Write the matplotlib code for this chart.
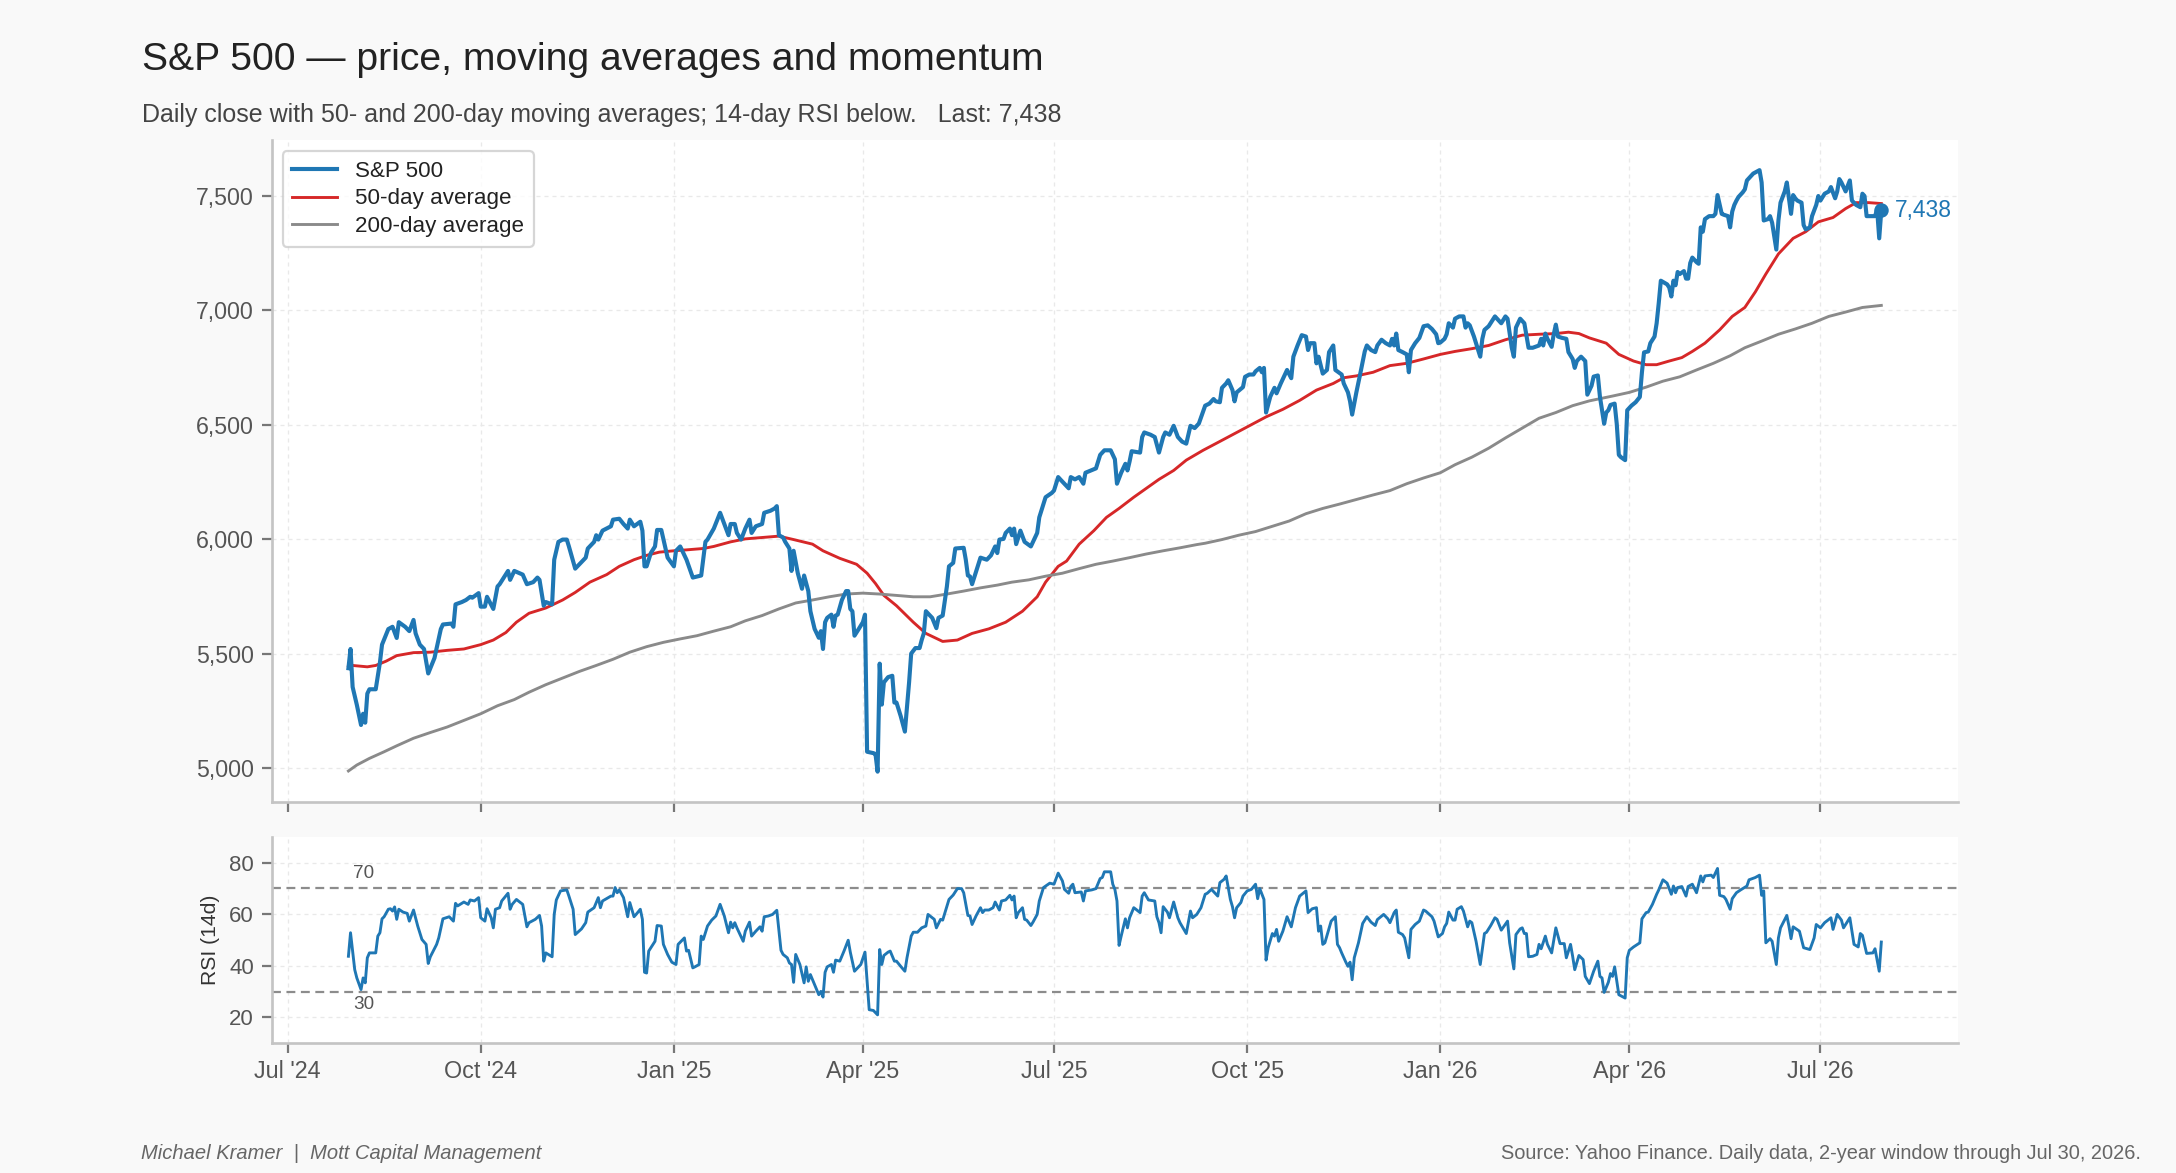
import matplotlib
matplotlib.use("Agg")
import matplotlib.pyplot as plt
import matplotlib.dates as mdates
from matplotlib.ticker import FuncFormatter, FixedLocator
import pandas as pd
import numpy as np

plt.rcParams['font.family'] = ['Liberation Sans', 'DejaVu Sans']

# ---------------- data ----------------
DAY0 = "2024-07-01"   # day offsets below are calendar days after this date

price_days = [
    29, 30, 31, 33, 35, 36, 37, 38, 39, 42, 44, 45, 48, 50, 52, 53, 56, 58, 60, 61,
    63, 65, 67, 70, 73, 74, 78, 79, 80, 83, 85, 87, 88, 91, 92, 94, 95, 98, 100, 101,
    103, 105, 106, 108, 112, 114, 117, 119, 120, 122, 123, 126, 127, 129, 131, 133, 134, 137, 139, 142,
    143, 146, 147, 148, 150, 154, 155, 158, 160, 162, 163, 165, 168, 169, 170, 171, 173, 175, 176, 178,
    180, 181, 184, 185, 187, 190, 193, 197, 199, 200, 203, 206, 208, 210, 211, 213, 214, 216, 218, 220,
    221, 223, 226, 227, 230, 232, 233, 234, 236, 237, 239, 240, 241, 243, 245, 246, 248, 249, 251, 253,
    254, 255, 256, 257, 259, 260, 261, 262, 264, 266, 267, 268, 269, 270, 272, 274, 275, 276, 279, 280,
    281, 282, 283, 284, 286, 288, 289, 290, 292, 294, 296, 297, 299, 301, 302, 303, 304, 307, 309, 310,
    312, 314, 315, 317, 318, 322, 323, 324, 325, 326, 328, 330, 333, 335, 337, 338, 339, 341, 342, 344,
    345, 346, 347, 349, 351, 354, 357, 358, 360, 361, 364, 365, 367, 368, 371, 372, 373, 375, 377, 379,
    380, 385, 387, 389, 392, 394, 395, 397, 399, 400, 401, 402, 406, 407, 408, 411, 413, 415, 417, 418,
    420, 422, 424, 426, 428, 430, 432, 434, 437, 439, 441, 442, 444, 445, 447, 448, 450, 451, 452, 455,
    456, 458, 460, 461, 463, 464, 465, 466, 468, 469, 470, 471, 473, 475, 476, 478, 479, 481, 483, 485,
    486, 487, 489, 490, 491, 493, 495, 496, 498, 499, 502, 503, 505, 506, 507, 509, 511, 513, 514, 516,
    518, 519, 521, 523, 525, 526, 527, 528, 529, 531, 533, 534, 535, 537, 539, 541, 543, 545, 547, 548,
    549, 551, 552, 553, 555, 556, 558, 560, 561, 562, 563, 565, 568, 569, 570, 572, 575, 576, 578, 580,
    581, 583, 584, 585, 586, 587, 589, 591, 593, 596, 597, 598, 599, 600, 602, 603, 604, 605, 607, 609,
    610, 612, 613, 614, 616, 618, 619, 621, 622, 624, 625, 627, 628, 629, 630, 632, 633, 634, 635, 637,
    638, 640, 642, 644, 645, 646, 648, 649, 651, 652, 653, 654, 657, 658, 659, 660, 661, 662, 663, 665,
    666, 667, 668, 669, 671, 672, 673, 674, 675, 677, 679, 680, 681, 683, 684, 686, 687, 688, 689, 690,
    691, 693, 694, 695, 697, 698, 701, 702, 703, 705, 706, 707, 709, 710, 711, 713, 714, 715, 716, 717,
    718, 719, 721, 722, 723, 725, 726, 728, 729, 730, 732, 734, 735, 737, 738, 739, 740, 742, 744, 745,
    747, 749, 750, 751, 752, 754, 756, 757, 758, 759,
]
price_vals = [
    5437, 5521, 5355, 5277, 5189, 5238, 5199, 5326, 5345, 5345, 5462, 5540, 5608, 5618, 5569, 5638, 5618, 5599, 5648, 5589,
    5540, 5521, 5414, 5482, 5608, 5628, 5632, 5618, 5716, 5726, 5735, 5749, 5745, 5765, 5706, 5706, 5749, 5696, 5794, 5804,
    5833, 5862, 5823, 5862, 5846, 5804, 5813, 5833, 5823, 5710, 5726, 5716, 5911, 5989, 5999, 5999, 5969, 5872, 5891, 5920,
    5960, 5989, 6018, 5999, 6038, 6057, 6086, 6090, 6067, 6047, 6086, 6057, 6077, 6038, 5882, 5882, 5940, 5969, 6041, 6041,
    5960, 5920, 5882, 5950, 5969, 5911, 5833, 5842, 5989, 5999, 6047, 6116, 6067, 6018, 6067, 6067, 6028, 5999, 6047, 6086,
    6028, 6057, 6067, 6116, 6125, 6135, 6145, 6018, 6008, 5989, 5960, 5862, 5950, 5852, 5784, 5842, 5774, 5686, 5609, 5570,
    5599, 5521, 5638, 5657, 5671, 5618, 5667, 5671, 5735, 5774, 5774, 5696, 5686, 5579, 5608, 5638, 5671, 5072, 5066, 5062,
    4985, 5457, 5278, 5375, 5398, 5404, 5287, 5287, 5228, 5160, 5375, 5501, 5525, 5525, 5560, 5589, 5686, 5657, 5612, 5657,
    5667, 5794, 5882, 5897, 5960, 5963, 5911, 5842, 5838, 5804, 5862, 5920, 5911, 5930, 5969, 5940, 5999, 6002, 6028, 6047,
    6018, 6047, 5979, 6038, 5989, 5969, 6028, 6096, 6154, 6184, 6203, 6213, 6272, 6262, 6233, 6223, 6272, 6262, 6272, 6243,
    6291, 6310, 6369, 6389, 6389, 6350, 6243, 6291, 6330, 6301, 6340, 6385, 6379, 6447, 6467, 6457, 6447, 6379, 6447, 6467,
    6457, 6496, 6447, 6427, 6418, 6496, 6486, 6506, 6584, 6593, 6613, 6603, 6599, 6662, 6681, 6695, 6652, 6603, 6642, 6665,
    6710, 6720, 6720, 6734, 6749, 6730, 6749, 6554, 6623, 6642, 6662, 6638, 6681, 6720, 6740, 6704, 6798, 6847, 6892, 6886,
    6827, 6857, 6857, 6769, 6798, 6724, 6740, 6818, 6847, 6740, 6720, 6681, 6642, 6603, 6545, 6642, 6730, 6821, 6847, 6827,
    6818, 6847, 6872, 6857, 6847, 6876, 6847, 6899, 6827, 6818, 6808, 6730, 6827, 6857, 6880, 6931, 6935, 6919, 6896, 6857,
    6860, 6876, 6896, 6944, 6925, 6964, 6974, 6974, 6925, 6944, 6935, 6886, 6798, 6876, 6915, 6931, 6974, 6964, 6944, 6974,
    6964, 6837, 6798, 6925, 6944, 6964, 6944, 6837, 6837, 6847, 6876, 6847, 6899, 6876, 6841, 6896, 6938, 6886, 6880, 6876,
    6818, 6788, 6749, 6779, 6798, 6779, 6632, 6671, 6711, 6716, 6623, 6505, 6554, 6564, 6587, 6593, 6505, 6369, 6359, 6346,
    6564, 6584, 6599, 6622, 6730, 6817, 6821, 6857, 6886, 6944, 7032, 7130, 7114, 7100, 7061, 7130, 7110, 7168, 7159, 7172,
    7139, 7139, 7207, 7231, 7211, 7204, 7363, 7344, 7399, 7412, 7412, 7422, 7504, 7422, 7418, 7412, 7363, 7432, 7461, 7480,
    7496, 7516, 7529, 7568, 7588, 7598, 7613, 7559, 7393, 7399, 7412, 7383, 7266, 7393, 7471, 7520, 7559, 7490, 7422, 7504,
    7490, 7480, 7471, 7373, 7354, 7363, 7412, 7461, 7500, 7480, 7510, 7520, 7539, 7490, 7520, 7574, 7559, 7520, 7568, 7480,
    7461, 7451, 7510, 7500, 7412, 7412, 7412, 7441, 7315, 7438,
]

ma50_days = [
    29, 31, 38, 42, 47, 52, 60, 68, 76, 84, 92, 98, 104, 109, 115, 123, 131, 137, 144, 152,
    158, 165, 171, 177, 184, 190, 198, 203, 211, 218, 226, 234, 241, 250, 255, 263, 271, 276, 280, 284,
    290, 298, 304, 312, 319, 326, 334, 342, 350, 357, 361, 367, 371, 377, 384, 390, 396, 403, 409, 415,
    422, 428, 436, 442, 450, 458, 466, 474, 482, 490, 498, 503, 509, 517, 525, 533, 541, 549, 556, 564,
    572, 580, 588, 596, 604, 610, 615, 620, 628, 634, 641, 647, 652, 658, 664, 669, 675, 682, 688, 694,
    699, 704, 710, 717, 723, 729, 736, 742, 747, 753, 759,
]
ma50_vals = [
    5443, 5449, 5443, 5449, 5468, 5492, 5505, 5507, 5515, 5521, 5540, 5560, 5593, 5638, 5677, 5700, 5735, 5768, 5813, 5846,
    5882, 5911, 5930, 5944, 5950, 5954, 5960, 5969, 5989, 6002, 6008, 6014, 5999, 5979, 5950, 5917, 5891, 5852, 5807, 5755,
    5710, 5638, 5589, 5554, 5560, 5589, 5609, 5638, 5686, 5749, 5813, 5882, 5905, 5979, 6038, 6096, 6135, 6184, 6223, 6262,
    6301, 6346, 6389, 6418, 6457, 6496, 6535, 6568, 6607, 6652, 6681, 6706, 6714, 6730, 6759, 6769, 6788, 6808, 6821, 6833,
    6847, 6872, 6892, 6896, 6899, 6905, 6899, 6880, 6857, 6808, 6779, 6763, 6763, 6779, 6794, 6821, 6857, 6915, 6974, 7013,
    7081, 7159, 7247, 7315, 7344, 7387, 7406, 7445, 7471, 7471, 7467,
]

ma200_days = [
    29, 33, 39, 46, 52, 60, 68, 76, 84, 92, 100, 108, 115, 123, 131, 139, 147, 155, 163, 171,
    179, 187, 195, 203, 211, 218, 226, 234, 242, 250, 258, 266, 274, 282, 290, 298, 306, 314, 322, 330,
    338, 345, 353, 361, 369, 377, 385, 393, 401, 409, 417, 425, 433, 437, 445, 453, 461, 469, 477, 485,
    493, 501, 509, 517, 525, 533, 541, 549, 556, 564, 572, 580, 588, 596, 604, 612, 620, 631, 639, 647,
    655, 663, 671, 679, 687, 694, 702, 710, 718, 726, 734, 742, 750, 759,
]
ma200_vals = [
    4988, 5014, 5043, 5072, 5098, 5131, 5156, 5180, 5209, 5238, 5273, 5300, 5332, 5365, 5394, 5423, 5449, 5476, 5507, 5531,
    5550, 5565, 5579, 5599, 5618, 5644, 5667, 5696, 5722, 5735, 5749, 5761, 5765, 5761, 5755, 5749, 5749, 5761, 5774, 5788,
    5800, 5813, 5823, 5839, 5852, 5872, 5891, 5905, 5920, 5936, 5950, 5963, 5977, 5983, 5999, 6018, 6034, 6057, 6080, 6112,
    6135, 6154, 6174, 6194, 6213, 6243, 6268, 6291, 6326, 6359, 6398, 6443, 6486, 6529, 6554, 6584, 6605, 6626, 6642, 6665,
    6691, 6710, 6740, 6769, 6802, 6837, 6866, 6896, 6919, 6944, 6974, 6993, 7013, 7022,
]

rsi_days = [
    29, 30, 32, 33, 35, 36, 37, 38, 39, 42, 43, 44, 45, 46, 48, 49, 50, 51, 52, 53,
    55, 57, 58, 60, 62, 64, 66, 67, 68, 71, 72, 74, 77, 79, 80, 81, 84, 86, 87, 89,
    91, 92, 94, 95, 97, 98, 99, 101, 102, 105, 106, 107, 109, 112, 114, 115, 118, 120, 121, 122,
    123, 126, 127, 128, 130, 133, 134, 136, 137, 140, 142, 143, 146, 148, 149, 150, 154, 155, 156, 157,
    158, 160, 162, 163, 165, 166, 168, 169, 170, 171, 172, 175, 176, 178, 179, 181, 183, 185, 186, 189,
    190, 191, 193, 194, 196, 197, 198, 200, 202, 204, 206, 208, 210, 211, 212, 213, 214, 217, 218, 220,
    221, 223, 225, 226, 227, 229, 231, 233, 235, 236, 238, 239, 240, 241, 242, 244, 246, 247, 248, 249,
    251, 253, 254, 255, 256, 257, 259, 260, 261, 263, 265, 267, 268, 270, 273, 275, 277, 279, 281, 282,
    283, 284, 286, 287, 289, 290, 292, 294, 295, 297, 298, 300, 302, 304, 305, 308, 309, 311, 312, 315,
    317, 319, 321, 322, 324, 325, 326, 328, 330, 331, 332, 334, 336, 337, 339, 340, 342, 344, 345, 346,
    347, 348, 350, 351, 352, 354, 355, 357, 358, 360, 363, 365, 367, 369, 370, 372, 373, 374, 375, 378,
    379, 380, 383, 385, 387, 388, 389, 392, 393, 394, 395, 396, 397, 399, 400, 401, 403, 404, 406, 407,
    408, 410, 413, 414, 415, 416, 417, 419, 420, 422, 424, 425, 428, 430, 431, 433, 435, 437, 438, 440,
    443, 444, 446, 447, 449, 450, 451, 452, 454, 455, 457, 459, 461, 462, 463, 465, 466, 467, 469, 470,
    471, 472, 474, 476, 478, 480, 482, 485, 486, 488, 490, 491, 492, 493, 494, 497, 499, 500, 501, 502,
    504, 505, 506, 507, 508, 510, 512, 514, 516, 518, 519, 522, 524, 525, 527, 528, 529, 531, 532, 534,
    535, 537, 539, 541, 542, 545, 546, 548, 550, 551, 552, 553, 555, 556, 557, 559, 560, 562, 563, 564,
    566, 568, 570, 571, 573, 575, 576, 578, 581, 582, 584, 585, 587, 588, 589, 590, 591, 593, 595, 596,
    597, 599, 600, 602, 604, 606, 608, 609, 611, 612, 613, 615, 617, 618, 620, 622, 624, 625, 626, 627,
    629, 630, 631, 632, 634, 637, 638, 639, 641, 644, 645, 647, 648, 650, 652, 653, 655, 657, 659, 660,
    661, 662, 664, 666, 667, 669, 671, 673, 674, 675, 678, 679, 681, 682, 684, 685, 687, 688, 690, 692,
    695, 696, 699, 701, 702, 703, 704, 706, 707, 709, 710, 711, 714, 715, 716, 717, 720, 722, 725, 727,
    728, 730, 732, 735, 736, 738, 740, 741, 744, 746, 748, 749, 750, 752, 755, 756, 758, 759,
]
rsi_vals = [
    43.7, 52.8, 38.5, 35.3, 30.8, 35.3, 33.4, 43.1, 45.0, 45.0, 51.5, 52.8, 58.2, 59.0, 61.9, 62.1, 61.2, 62.8, 58.0, 61.9,
    60.8, 60.3, 57.3, 61.6, 55.4, 50.2, 48.3, 40.9, 43.5, 48.3, 50.8, 58.2, 59.0, 57.3, 64.2, 63.2, 64.7, 63.8, 65.5, 65.1,
    66.4, 58.6, 57.3, 62.1, 58.6, 54.7, 61.9, 62.5, 65.1, 68.1, 61.9, 63.8, 65.7, 63.8, 55.1, 56.7, 58.0, 59.5, 55.4, 41.8,
    45.0, 43.5, 59.9, 65.5, 69.0, 69.4, 67.0, 61.9, 52.1, 54.3, 56.7, 60.8, 62.5, 66.4, 62.5, 65.1, 67.0, 67.0, 70.3, 68.3,
    69.4, 66.4, 59.0, 64.5, 59.0, 59.9, 61.9, 58.0, 37.5, 37.2, 45.7, 49.5, 55.6, 55.4, 48.3, 44.4, 41.4, 40.5, 48.3, 50.8,
    45.7, 46.0, 39.2, 39.6, 40.5, 51.5, 50.2, 55.4, 57.7, 59.3, 63.8, 59.3, 52.8, 56.9, 54.7, 56.7, 54.7, 49.5, 53.4, 56.9,
    51.5, 53.4, 55.1, 53.4, 59.0, 59.3, 59.9, 61.5, 46.0, 44.4, 43.1, 41.1, 40.5, 33.6, 44.4, 40.5, 33.4, 39.6, 34.0, 36.6,
    32.7, 28.8, 30.1, 27.9, 37.5, 39.6, 40.5, 37.5, 42.2, 41.8, 45.7, 49.9, 45.3, 37.9, 40.5, 45.3, 23.0, 22.7, 21.0, 46.3,
    40.5, 44.0, 45.3, 45.7, 41.8, 41.8, 39.8, 37.9, 43.1, 51.5, 53.0, 53.0, 54.7, 55.4, 59.9, 58.0, 54.7, 58.0, 57.7, 65.7,
    67.4, 69.9, 69.9, 68.3, 59.5, 59.3, 56.0, 59.5, 62.5, 60.6, 61.6, 61.6, 62.5, 64.7, 61.6, 65.1, 65.5, 67.3, 65.5, 67.0,
    58.6, 60.6, 62.5, 58.0, 57.7, 55.6, 56.9, 59.9, 65.1, 70.3, 72.0, 71.6, 75.9, 72.9, 69.6, 68.1, 70.7, 71.6, 68.3, 68.6,
    65.1, 69.0, 69.4, 69.9, 73.8, 74.2, 76.4, 76.4, 71.6, 69.6, 65.1, 47.9, 51.5, 58.2, 54.7, 58.6, 62.5, 61.9, 60.6, 67.0,
    68.3, 65.5, 65.1, 59.0, 56.7, 52.8, 62.9, 60.8, 58.6, 64.7, 58.6, 56.7, 52.5, 61.2, 58.6, 59.9, 62.5, 67.7, 68.1, 69.6,
    67.0, 72.2, 73.5, 74.8, 65.7, 62.9, 58.6, 62.5, 64.5, 67.0, 69.0, 69.6, 71.6, 66.0, 69.9, 65.7, 42.2, 47.0, 52.5, 51.5,
    54.1, 49.5, 53.4, 59.0, 55.1, 62.5, 67.0, 69.0, 60.6, 62.1, 62.5, 53.4, 55.4, 48.3, 48.9, 57.3, 59.0, 48.3, 47.0, 45.0,
    41.4, 39.8, 41.4, 34.6, 43.1, 48.9, 56.4, 59.0, 56.9, 55.6, 57.9, 59.9, 58.2, 56.7, 60.6, 61.6, 53.0, 52.1, 50.8, 43.1,
    54.1, 56.0, 57.3, 61.6, 61.2, 59.0, 57.3, 51.2, 52.5, 55.1, 56.4, 60.8, 57.7, 57.7, 61.9, 62.9, 61.2, 55.1, 57.3, 56.7,
    49.5, 40.5, 52.5, 53.0, 55.6, 58.6, 58.0, 53.8, 57.3, 48.9, 38.8, 52.1, 54.3, 54.7, 52.5, 52.5, 43.5, 43.7, 44.4, 48.3,
    46.6, 51.5, 48.3, 45.0, 54.7, 48.6, 48.6, 43.1, 48.3, 43.7, 38.5, 44.0, 42.4, 35.9, 33.1, 37.9, 41.8, 35.9, 35.3, 29.7,
    33.6, 37.0, 35.9, 39.6, 28.8, 27.5, 43.1, 46.0, 47.3, 48.9, 58.2, 60.6, 60.8, 63.8, 67.7, 69.4, 73.3, 72.0, 67.7, 70.9,
    68.3, 70.3, 70.7, 67.0, 70.7, 71.6, 68.3, 74.8, 72.5, 74.8, 75.1, 74.2, 77.7, 67.3, 66.8, 65.7, 61.9, 66.0, 68.3, 69.4,
    70.9, 73.3, 74.2, 75.1, 67.3, 69.0, 48.9, 50.5, 49.5, 40.5, 50.8, 54.7, 59.5, 55.4, 50.5, 55.1, 53.4, 47.0, 46.3, 50.8,
    56.0, 54.7, 56.7, 58.6, 54.1, 59.9, 57.7, 54.7, 58.6, 48.3, 47.3, 52.5, 51.8, 44.8, 45.0, 46.6, 37.9, 49.2,
]

y_ticks = [5000, 5500, 6000, 6500, 7000, 7500]
rsi_ticks = [20, 40, 60, 80]
rsi_levels = [70, 30]
x_tick_dates = ["2024-07-01", "2024-10-01", "2025-01-01", "2025-04-01", "2025-07-01",
                "2025-10-01", "2026-01-01", "2026-04-01", "2026-07-01"]

title = "S&P 500 \u2014 price, moving averages and momentum"
source_txt = "Source: Yahoo Finance. Daily data, 2-year window through Jul 30, 2026."
credit_txt = "Michael Kramer  |  Mott Capital Management"

# ---------------- build ----------------
base = pd.Timestamp(DAY0)
def to_dates(days):
    return base + pd.to_timedelta(np.asarray(days), unit="D")

p_dates = to_dates(price_days)
m50_dates = to_dates(ma50_days)
m200_dates = to_dates(ma200_days)
r_dates = to_dates(rsi_days)
last_val = price_vals[-1]

BLUE = "#1f77b4"
RED = "#d62728"
GRAY = "#8a8a8a"
SPINE = "#c4c4c4"

fig = plt.figure(figsize=(13.6, 7.33125), dpi=160, facecolor="#f9f9f9")
ax = fig.add_axes([0.1249, 0.3165, 0.7749, 0.5641])
axr = fig.add_axes([0.1249, 0.1106, 0.7749, 0.1761], sharex=ax)

for a in (ax, axr):
    a.set_facecolor("white")
    for s in ("top", "right"):
        a.spines[s].set_visible(False)
    for s in ("left", "bottom"):
        a.spines[s].set_color(SPINE)
        a.spines[s].set_linewidth(1.2)
    a.grid(True, linestyle=(0, (3, 3)), color="#e9e9e9", linewidth=0.6)
    a.set_axisbelow(True)
    a.tick_params(axis="both", direction="out", length=4.5, width=1.0,
                  color="#777777", labelcolor="#555555")

ax.plot(p_dates, price_vals, color=BLUE, lw=1.85, label="S&P 500", zorder=4)
ax.plot(m50_dates, ma50_vals, color=RED, lw=1.3, label="50-day average", zorder=3)
ax.plot(m200_dates, ma200_vals, color=GRAY, lw=1.3, label="200-day average", zorder=3)
ax.plot([p_dates[-1]], [last_val], "o", color=BLUE, ms=5.5, zorder=5)
ax.annotate(f"{last_val:,.0f}", xy=(p_dates[-1], last_val), xytext=(6, 0),
            textcoords="offset points", va="center", ha="left",
            color=BLUE, fontsize=10.3)

ax.yaxis.set_major_locator(FixedLocator(y_ticks))
ax.yaxis.set_major_formatter(FuncFormatter(lambda v, p: f"{v:,.0f}"))
ax.tick_params(axis="y", labelsize=10.4)
ax.tick_params(axis="x", labelbottom=False)

leg = ax.legend(loc="upper left", fontsize=10.1, frameon=True, fancybox=True,
                handlelength=2.0, handletextpad=0.8, borderpad=0.42, labelspacing=0.3)
leg.get_frame().set_edgecolor("#cccccc")
leg.get_frame().set_facecolor("white")
leg.get_frame().set_linewidth(1.0)
for t in leg.get_texts():
    t.set_color("#222222")

# RSI panel
axr.plot(r_dates, rsi_vals, color=BLUE, lw=1.3, zorder=3)
for lvl in rsi_levels:
    axr.axhline(lvl, color="#8c8c8c", lw=1.0, linestyle=(0, (4, 2.5)), zorder=2)
axr.annotate(str(rsi_levels[0]), xy=(r_dates[0], rsi_levels[0]), xytext=(2, 3),
             textcoords="offset points", va="bottom", ha="left", fontsize=8.5, color="#555555")
axr.annotate(str(rsi_levels[1]), xy=(r_dates[0], rsi_levels[1]), xytext=(2, -2),
             textcoords="offset points", va="top", ha="left", fontsize=8.5, color="#555555")
axr.set_ylim(10, 90)
axr.yaxis.set_major_locator(FixedLocator(rsi_ticks))
axr.tick_params(axis="y", labelsize=10)
axr.tick_params(axis="x", labelsize=10.5, pad=3)
axr.set_ylabel("RSI (14d)", fontsize=9.5, color="#333333", labelpad=4)

xt = [mdates.date2num(pd.Timestamp(d)) for d in x_tick_dates]
axr.xaxis.set_major_locator(FixedLocator(xt))
axr.xaxis.set_major_formatter(mdates.DateFormatter("%b '%y"))

# titles and footer
fig.text(0.0653, 0.9403, title, fontsize=17.6, color="#222222", va="baseline", ha="left")
fig.text(0.0653, 0.8962,
         f"Daily close with 50- and 200-day moving averages; 14-day RSI below.   Last: {last_val:,.0f}",
         fontsize=11.25, color="#444444", va="baseline", ha="left")
fig.text(0.0649, 0.0117, credit_txt, fontsize=9.05, style="italic", color="#666666",
         va="baseline", ha="left")
fig.text(0.9837, 0.0117, source_txt, fontsize=9.0, color="#666666", va="baseline", ha="right")

fig.savefig("out.png", dpi=160, facecolor=fig.get_facecolor())
